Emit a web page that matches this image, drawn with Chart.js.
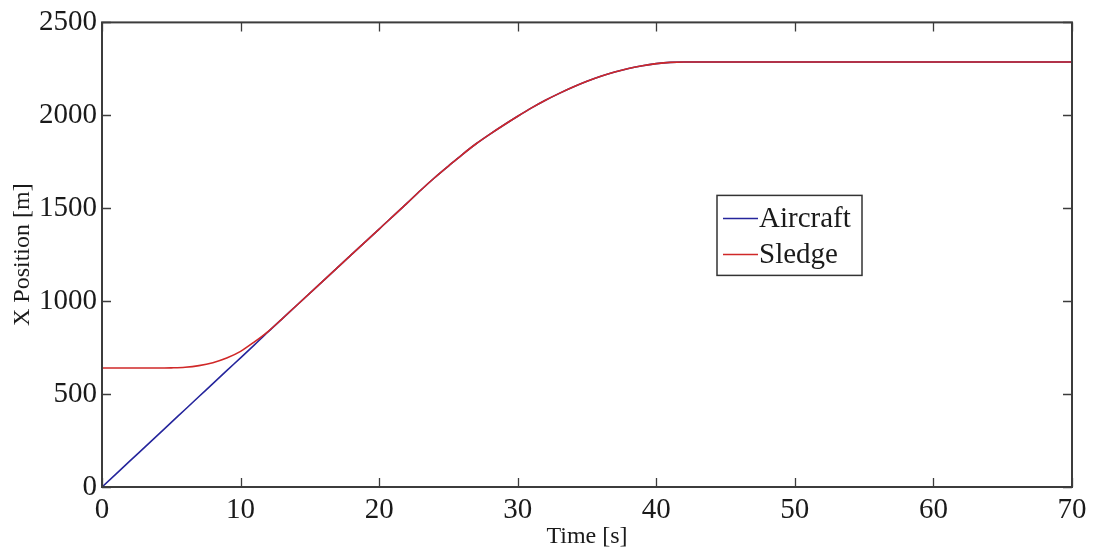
<!DOCTYPE html>
<html>
<head>
<meta charset="utf-8">
<title>X Position</title>
<script src="https://cdn.jsdelivr.net/npm/chart.js@4.4.0/dist/chart.umd.min.js"></script>
<style>
  html, body { margin: 0; padding: 0; background: #fff; }
  #wrap { width: 1093px; height: 554px; }
</style>
</head>
<body>
<div id="wrap"><canvas id="myChart"></canvas></div>
<script>
'use strict';

// time samples [s]
let times = [0, 2, 4, 5, 6, 7, 8, 9, 10, 11, 12, 13, 14, 16, 18, 20, 22, 23, 24, 25,
  26, 27, 28, 29, 30, 31, 32, 33, 34, 35, 36, 37, 38, 39, 40, 41, 42, 43, 45, 50,
  55, 60, 65, 70];

// x position of the aircraft [m]
let aircraftPos = [0, 139, 278, 348, 417, 487, 556, 626, 695, 765, 836, 905, 974, 1112, 1250, 1388, 1526, 1597, 1664, 1727,
  1789, 1847, 1899, 1948, 1995, 2040, 2081, 2118, 2152, 2183, 2210, 2233, 2252, 2267, 2278, 2285, 2287, 2287, 2287, 2287,
  2287, 2287, 2287, 2287];

// x position of the sledge [m]
let sledgePos = [640, 640, 640, 641, 644, 653, 669, 694, 730, 781, 838, 905, 974, 1112, 1250, 1388, 1526, 1597, 1664, 1727,
  1789, 1847, 1899, 1948, 1995, 2040, 2081, 2118, 2152, 2183, 2210, 2233, 2252, 2267, 2278, 2285, 2287, 2287, 2287, 2287,
  2287, 2287, 2287, 2287];

let xTicks = [0, 10, 20, 30, 40, 50, 60, 70];
let yTicks = [0, 500, 1000, 1500, 2000, 2500];

let seriesNames = ['Aircraft', 'Sledge'];
let seriesColors = ['#25259c', '#d02828'];

function toPoints(values) {
  return values.map((v, i) => ({x: times[i], y: v}));
}

// box around the axes, inward tick marks and the legend inside the plot
const frameAndLegend = {
  id: 'frameAndLegend',
  afterDatasetsDraw(chart) {
    const {ctx, chartArea: a, scales} = chart;
    const tickLen = 9;
    ctx.save();
    ctx.strokeStyle = '#3c3c3c';
    ctx.lineWidth = 2;
    ctx.strokeRect(a.left, a.top, a.right - a.left, a.bottom - a.top);

    ctx.lineWidth = 1.3;
    ctx.beginPath();
    scales.x.ticks.forEach(t => {
      let px = Math.round(scales.x.getPixelForValue(t.value)) + 0.5;
      ctx.moveTo(px, a.bottom);
      ctx.lineTo(px, a.bottom - tickLen);
      ctx.moveTo(px, a.top);
      ctx.lineTo(px, a.top + tickLen);
    });
    scales.y.ticks.forEach(t => {
      let py = Math.round(scales.y.getPixelForValue(t.value)) + 0.5;
      ctx.moveTo(a.left, py);
      ctx.lineTo(a.left + tickLen, py);
      ctx.moveTo(a.right, py);
      ctx.lineTo(a.right - tickLen, py);
    });
    ctx.stroke();

    // legend
    let lx = a.left + 615, ly = a.top + 173, lw = 145, lh = 80;
    ctx.fillStyle = '#fff';
    ctx.fillRect(lx, ly, lw, lh);
    ctx.strokeStyle = '#333';
    ctx.lineWidth = 1.5;
    ctx.strokeRect(lx, ly, lw, lh);
    ctx.font = "29px 'Liberation Serif', 'Times New Roman', serif";
    ctx.textBaseline = 'middle';
    ctx.textAlign = 'left';
    seriesNames.forEach((name, i) => {
      let rowY = ly + 23 + i * 36;
      ctx.strokeStyle = seriesColors[i];
      ctx.lineWidth = 1.5;
      ctx.beginPath();
      ctx.moveTo(lx + 6, rowY);
      ctx.lineTo(lx + 41, rowY);
      ctx.stroke();
      ctx.fillStyle = '#1a1a1a';
      ctx.fillText(name, lx + 42, rowY + 1);
    });
    ctx.restore();
  }
};

Chart.defaults.font.family = "'Liberation Serif', 'Times New Roman', serif";
Chart.defaults.color = '#1a1a1a';

let chartObject = {
  type: 'line',
  data: {
    datasets: [{
      label: seriesNames[1],
      data: toPoints(sledgePos),
      borderColor: seriesColors[1],
      borderWidth: 1.6,
      pointRadius: 0,
      cubicInterpolationMode: 'monotone',
      order: 0
    },
    {
      label: seriesNames[0],
      data: toPoints(aircraftPos),
      borderColor: seriesColors[0],
      borderWidth: 1.6,
      pointRadius: 0,
      cubicInterpolationMode: 'monotone',
      order: 1
    }]
  },
  options: {
    responsive: true,
    maintainAspectRatio: false,
    animation: false,
    layout: {
      padding: {left: 0, top: 17, right: 21, bottom: 0}
    },
    plugins: {
      legend: {display: false},
      tooltip: {enabled: false}
    },
    scales: {
      x: {
        type: 'linear',
        min: 0,
        max: 70,
        afterBuildTicks: (scale) => { scale.ticks = xTicks.map(v => ({value: v})); },
        afterFit: (scale) => { scale.height = 67; },
        grid: {display: false, drawTicks: false},
        border: {display: false},
        ticks: {
          font: {size: 29},
          padding: 6,
          maxRotation: 0,
          autoSkip: false,
          callback: (v) => String(v)
        },
        title: {
          display: true,
          text: 'Time [s]',
          font: {size: 24},
          padding: {top: 0, bottom: 3}
        }
      },
      y: {
        type: 'linear',
        min: 0,
        max: 2500,
        afterBuildTicks: (scale) => { scale.ticks = yTicks.map(v => ({value: v})); },
        afterFit: (scale) => { scale.width = 102; },
        grid: {display: false, drawTicks: false},
        border: {display: false},
        ticks: {
          font: {size: 29},
          padding: 5,
          autoSkip: false,
          callback: (v) => String(v)
        },
        title: {
          display: true,
          text: 'X Position [m]',
          font: {size: 24},
          padding: {top: 8, bottom: 0}
        }
      }
    }
  },
  plugins: [frameAndLegend]
};

let ctx = document.getElementById('myChart').getContext('2d');
let myChart = new Chart(ctx, chartObject);
</script>
</body>
</html>
